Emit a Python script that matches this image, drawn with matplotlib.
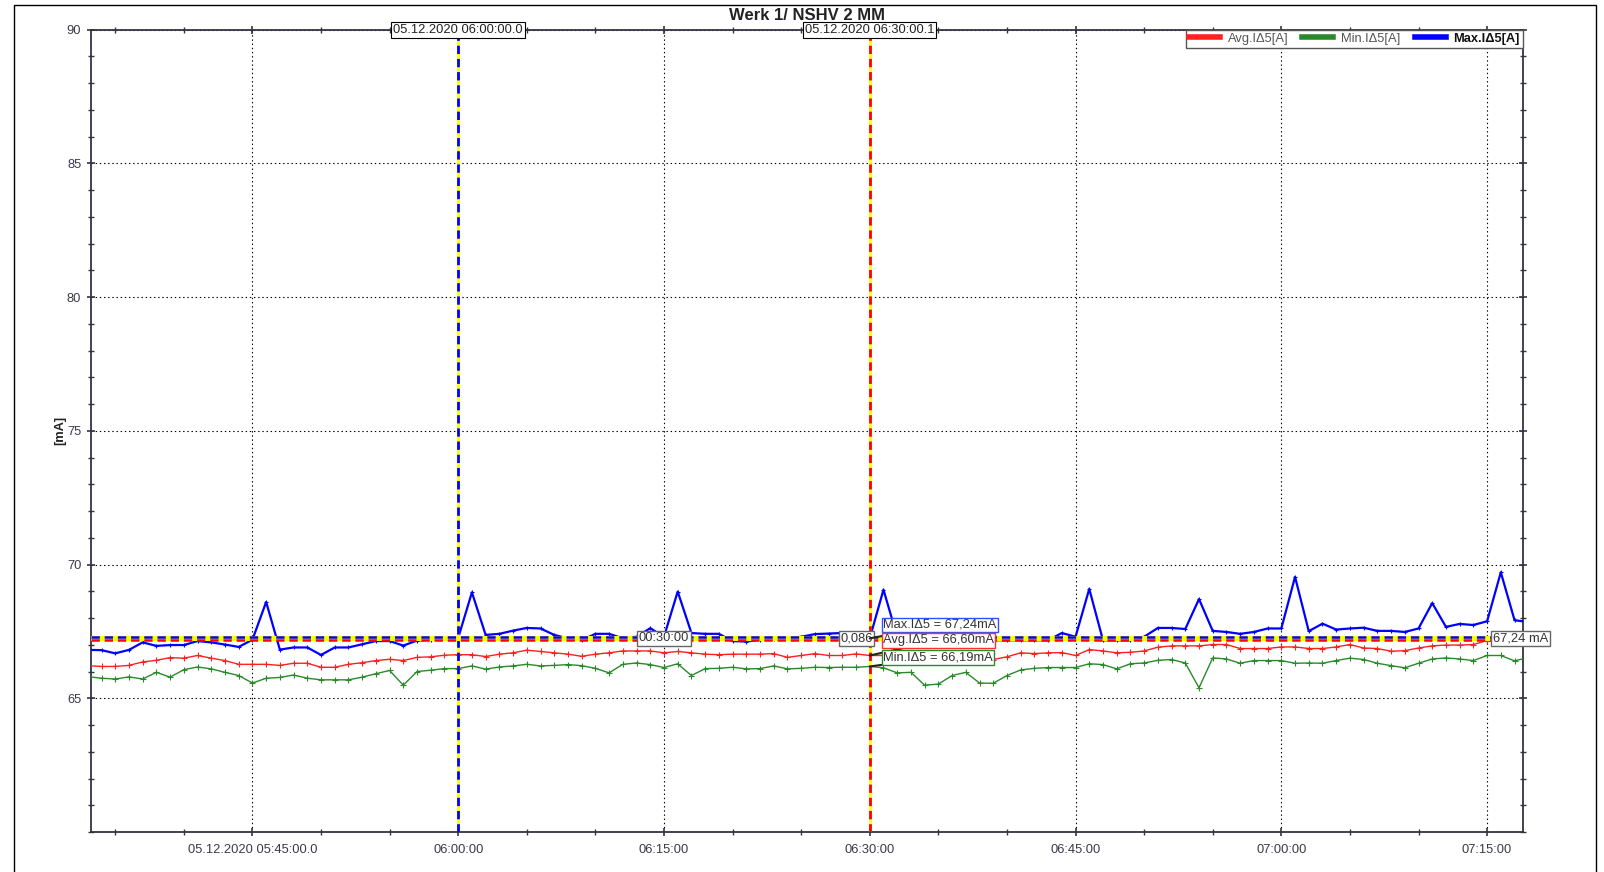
import numpy as np
import pandas as pd
import matplotlib
matplotlib.use("Agg")
import matplotlib.pyplot as plt
import matplotlib.dates as mdates
from matplotlib.ticker import MultipleLocator
from matplotlib.lines import Line2D
from matplotlib.patches import Rectangle

plt.rcParams['font.family'] = ['Liberation Sans', 'DejaVu Sans']
plt.rcParams['lines.scale_dashes'] = False

# one reading per minute, 05:33 .. 07:18
times = pd.date_range("2020-12-05 05:33", "2020-12-05 07:18", freq="1min")

avg_vals = [66.22, 66.19, 66.19, 66.23, 66.36, 66.42, 66.52, 66.50, 66.60, 66.50,
            66.41, 66.27, 66.27, 66.27, 66.23, 66.31, 66.31, 66.16, 66.16, 66.27,
            66.33, 66.41, 66.46, 66.41, 66.53, 66.55, 66.61,
            66.63, 66.63, 66.56, 66.65, 66.70, 66.80, 66.75, 66.70, 66.65, 66.57,
            66.65, 66.70, 66.77, 66.77, 66.77, 66.70, 66.75, 66.70, 66.65, 66.63,
            66.65, 66.65, 66.65, 66.67, 66.53, 66.60, 66.67,
            66.60, 66.60, 66.66, 66.60, 66.60, 66.50, 66.45, 66.36, 66.40, 66.50,
            66.55, 66.45, 66.45, 66.55, 66.70, 66.67, 66.70, 66.71, 66.60, 66.82,
            66.77, 66.70, 66.72, 66.77,
            66.91, 66.96, 66.96, 66.96, 67.01, 67.01, 66.86, 66.86, 66.86, 66.92,
            66.92, 66.86, 66.86, 66.92, 67.01, 66.88, 66.86, 66.76, 66.78, 66.88,
            66.96, 66.99, 66.99, 67.01, 67.16, 67.16, 67.16, 67.16]

min_vals = [65.81, 65.75, 65.72, 65.80, 65.72, 65.97, 65.79, 66.07, 66.17, 66.10,
            65.97, 65.85, 65.57, 65.75, 65.78, 65.87, 65.75, 65.69, 65.69, 65.69,
            65.79, 65.92, 66.04, 65.49, 66.00, 66.05, 66.11,
            66.11, 66.21, 66.09, 66.17, 66.21, 66.27, 66.21, 66.23, 66.26, 66.22,
            66.12, 65.95, 66.27, 66.32, 66.26, 66.15, 66.29, 65.85, 66.11, 66.12,
            66.16, 66.10, 66.11, 66.21, 66.10, 66.12, 66.16,
            66.15, 66.16, 66.16, 66.19, 66.14, 65.95, 65.97, 65.49, 65.53, 65.85,
            65.97, 65.57, 65.56, 65.85, 66.06, 66.12, 66.15, 66.15, 66.15, 66.29,
            66.26, 66.10, 66.29, 66.32,
            66.42, 66.45, 66.32, 65.39, 66.51, 66.47, 66.31, 66.41, 66.41, 66.41,
            66.31, 66.32, 66.31, 66.41, 66.50, 66.45, 66.31, 66.22, 66.14, 66.31,
            66.47, 66.51, 66.47, 66.41, 66.60, 66.60, 66.40, 66.52]

max_vals = [66.81, 66.80, 66.68, 66.81, 67.09, 66.96, 66.99, 66.99, 67.14, 67.09,
            67.01, 66.92, 67.19, 68.60, 66.82, 66.90, 66.90, 66.62, 66.90, 66.90,
            67.02, 67.14, 67.14, 66.97, 67.16, 67.19, 67.24,
            67.26, 68.96, 67.37, 67.41, 67.53, 67.63, 67.61, 67.37, 67.24, 67.17,
            67.41, 67.41, 67.24, 67.30, 67.62, 67.30, 68.99, 67.44, 67.41, 67.41,
            67.14, 67.12, 67.19, 67.22, 67.24, 67.30, 67.40,
            67.42, 67.44, 67.38, 67.24, 69.06, 67.30, 67.25, 67.20, 67.22, 67.25,
            67.20, 67.17, 67.17, 67.17, 67.17, 67.17, 67.17, 67.44, 67.30, 69.09,
            67.17, 67.17, 67.17, 67.30,
            67.63, 67.63, 67.59, 68.71, 67.52, 67.48, 67.41, 67.48, 67.61, 67.61,
            69.54, 67.51, 67.79, 67.57, 67.61, 67.64, 67.52, 67.52, 67.48, 67.61,
            68.56, 67.67, 67.78, 67.74, 67.88, 69.71, 67.92, 67.85]

series_names = ["Avg.IΔ5[A]", "Min.IΔ5[A]", "Max.IΔ5[A]"]
readout_names = ["Max.IΔ5", "Avg.IΔ5", "Min.IΔ5"]

x_start = pd.Timestamp("2020-12-05 05:33:14")
x_end = pd.Timestamp("2020-12-05 07:17:37")
y_ticks = [65, 70, 75, 80, 85, 90]

tick_times = pd.date_range("2020-12-05 05:45", "2020-12-05 07:15", freq="15min")
tick_labels = ["05.12.2020 05:45:00.0", "06:00:00", "06:15:00", "06:30:00",
               "06:45:00", "07:00:00", "07:15:00"]

cursor_a = pd.Timestamp("2020-12-05 06:00:00")
cursor_b = pd.Timestamp("2020-12-05 06:30:00")
cursor_a_label = "05.12.2020 06:00:00.0"
cursor_b_label = "05.12.2020 06:30:00.1"
span_label = "00:30:00"
diff_label = "0,086"

c_avg, c_min, c_max = '#ff2020', '#2a8a2a', '#0000ff'
tick_col = '#3a3a4a'
fs = 9.3

fig = plt.figure(figsize=(16.04, 8.72), dpi=100)
ax = fig.add_axes([91 / 1604, 40 / 872, 1432 / 1604, 802.3 / 872])

ax.plot(times, avg_vals, color=c_avg, lw=1, marker='+', ms=5, mew=0.8, zorder=3)
ax.plot(times, min_vals, color=c_min, lw=1, marker='+', ms=5, mew=0.8, zorder=3)
ax.plot(times, max_vals, color=c_max, lw=1.6, marker='+', ms=3, mew=0.8, zorder=4)

ax.set_xlim(x_start, x_end)
ax.set_ylim(60, 90)
ax.set_xticks(tick_times, labels=tick_labels)
ax.xaxis.set_minor_locator(mdates.MinuteLocator(byminute=range(0, 60, 5)))
ax.set_yticks(y_ticks)
ax.yaxis.set_minor_locator(MultipleLocator(1))

ax.set_axisbelow(True)
ax.grid(which='major', color='black', linestyle=(0, (1, 2)), lw=0.8)
for s in ax.spines.values():
    s.set_color('#333344')
    s.set_linewidth(1.3)
ax.tick_params(which='major', direction='inout', length=6, width=1.2, color='#333344',
               labelsize=fs, labelcolor=tick_col, top=True, right=True)
ax.tick_params(which='minor', direction='inout', length=4, width=1, color='#333344',
               top=True, right=True)
ax.tick_params(axis='x', pad=5.5)
ax.tick_params(axis='y', pad=4)

ax.set_ylabel('[mA]', fontweight='bold', fontsize=fs, color='#222222')
ax.yaxis.set_label_coords(-0.017, 0.5)
ax.yaxis.label.set_bbox(dict(facecolor='white', edgecolor='none', pad=0.5))

# cursors
i_b = list(times).index(cursor_b)
level = max_vals[i_b]
dash = (0, (6, 3.5))
ax.axvline(cursor_a, color='yellow', lw=2, zorder=6)
ax.axvline(cursor_a, color='blue', lw=2, ls=dash, zorder=6)
ax.axvline(cursor_b, color='yellow', lw=2, zorder=6)
ax.axvline(cursor_b, color='red', lw=2, ls=dash, zorder=6)
ax.axhline(level, color='yellow', lw=3.6, zorder=6)
ax.axhline(level - 0.045, color='red', lw=1.8, ls=dash, zorder=6)
ax.axhline(level + 0.045, color='blue', lw=1.8, ls=dash, zorder=6)

box = dict(boxstyle='square,pad=0.15', fc='white', ec='black', lw=0.8)
gbox = dict(boxstyle='square,pad=0.12', fc='white', ec='#666666', lw=1)
ax.text(cursor_a, 90, cursor_a_label, ha='center', va='center', fontsize=fs,
        color='#222222', bbox=box, zorder=10, clip_on=False)
ax.text(cursor_b, 90, cursor_b_label, ha='center', va='center', fontsize=fs,
        color='#222222', bbox=box, zorder=10, clip_on=False)
ax.text(cursor_a + (cursor_b - cursor_a) / 2, level, span_label, ha='center', va='center',
        fontsize=fs, color='#333333', bbox=gbox, zorder=10)
ax.text(cursor_b + pd.Timedelta(seconds=12), level, diff_label, ha='right', va='center',
        fontsize=fs, color='#333333', bbox=gbox, zorder=10)
ax.text(0.979, level, f"{level:.2f}".replace('.', ',') + " mA", transform=ax.get_yaxis_transform(),
        ha='left', va='center', fontsize=fs, color='#333333', bbox=gbox, zorder=10, clip_on=False)

# value readouts at the second cursor
readouts = [(readout_names[0], max_vals[i_b], '#3050ff', 9.7),
            (readout_names[1], avg_vals[i_b], '#ff3030', 10.9),
            (readout_names[2], min_vals[i_b], '#2a8a2a', 6.5)]
for name, v, ec, dy in readouts:
    txt = f"{name} = " + f"{v:.2f}".replace('.', ',') + "mA"
    ax.annotate(txt, xy=(cursor_b, v), xytext=(9.6, dy), textcoords='offset points',
                ha='left', va='center', fontsize=fs, color='#333333', zorder=11,
                bbox=dict(boxstyle='square,pad=0.1', fc='white', ec=ec, lw=1),
                arrowprops=dict(arrowstyle='-', color='#222222', lw=1.5, shrinkA=0, shrinkB=0))

handles = [Line2D([], [], color=c, lw=4) for c in (c_avg, c_min, c_max)]
leg = ax.legend(handles, series_names, loc='upper right', bbox_to_anchor=(1, 1), ncol=3,
                fontsize=fs, fancybox=False, edgecolor='#555555', framealpha=1,
                borderaxespad=0, handlelength=2.4, handletextpad=0.6, columnspacing=1.1,
                borderpad=0.25)
leg.get_frame().set_linewidth(1)
leg.set_zorder(12)
for t in leg.get_texts()[:2]:
    t.set_color('#555555')
leg.get_texts()[2].set_fontweight('bold')
leg.get_texts()[2].set_color('#111111')

fig.text(807 / 1604, 1 - 16 / 872, 'Werk 1/ NSHV 2 MM', ha='center', va='center',
         fontweight='bold', fontsize=12, color='#222222')
fig.add_artist(Rectangle((14 / 1604, -0.05), (1596 - 14) / 1604, 1.05 - 5 / 872,
                         transform=fig.transFigure, fill=False, ec='black', lw=1))

fig.savefig('out.png', dpi=100)
